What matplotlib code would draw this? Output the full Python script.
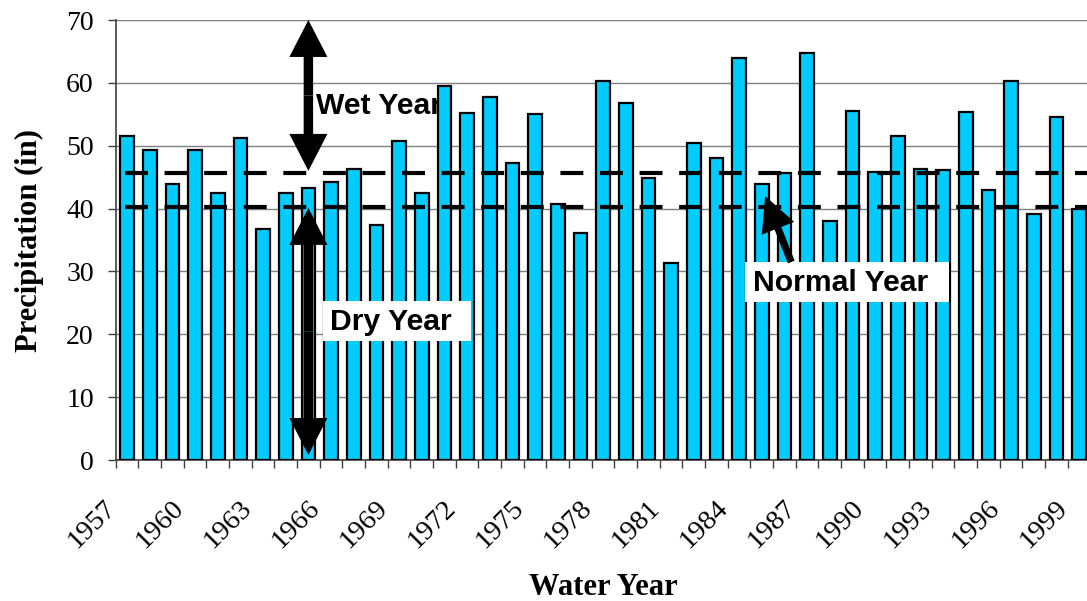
import matplotlib
matplotlib.use("Agg")
import matplotlib.pyplot as plt
import matplotlib.transforms as mtransforms
from matplotlib.patches import FancyArrowPatch, Rectangle
import numpy as np

# Annual precipitation by water year
years = list(range(1957, 2000))
precip = [51.5, 49.3, 43.9, 49.3, 42.4, 51.2, 36.8, 42.5, 43.2, 44.3,
          46.3, 37.4, 50.8, 42.5, 59.5, 55.2, 57.8, 47.3, 55.0, 40.7,
          36.1, 60.3, 56.8, 44.8, 31.4, 50.4, 48.0, 64.0, 43.9, 45.7,
          64.7, 38.1, 55.5, 45.8, 51.5, 46.3, 46.2, 55.3, 43.0, 60.3,
          39.2, 54.6, 40.0]

# Year-type thresholds (in)
wet_threshold = 45.6
dry_threshold = 40.3

y_ticks = [0, 10, 20, 30, 40, 50, 60, 70]
label_years = list(range(1957, 2000, 3))

serif = ["Liberation Serif", "DejaVu Serif"]
sans = ["Liberation Sans", "DejaVu Sans"]

fig = plt.figure(figsize=(10.87, 6.01), dpi=100)
ax = fig.add_axes([115.7 / 1087, 1 - 460 / 601, (1090.5 - 115.7) / 1087, 440 / 601])

x = np.arange(len(years))
ax.bar(x, precip, width=0.6, color="#00CCFF", edgecolor="black",
       linewidth=1.6, zorder=3)

ax.set_xlim(-0.5, len(years) - 0.5)
ax.set_ylim(0, 70)

# horizontal gridlines
ax.set_yticks(y_ticks)
ax.yaxis.grid(True, color="#808080", linewidth=1.0, zorder=0)
ax.set_axisbelow(True)
for s in ["top", "right"]:
    ax.spines[s].set_visible(False)
ax.axhline(70, color="#808080", linewidth=1.5, zorder=1)
ax.spines["left"].set_color("#404040")
ax.spines["left"].set_linewidth(1.2)
ax.spines["bottom"].set_color("#404040")
ax.spines["bottom"].set_linewidth(1.2)

ax.tick_params(axis="y", direction="out", length=5.8, width=1.0,
               color="#404040", pad=10, labelsize=20)
for lab in ax.get_yticklabels():
    lab.set_fontfamily(serif)

# category boundary ticks and rotated year labels
ax.set_xticks(np.arange(-0.5, len(years), 1.0), minor=True)
ax.tick_params(axis="x", which="minor", direction="out", length=5.8,
               width=1.0, color="#404040")
label_pos = [years.index(yr) for yr in label_years]
ax.set_xticks(label_pos)
ax.set_xticklabels([str(yr) for yr in label_years], rotation=45,
                   ha="right", va="top", rotation_mode="anchor",
                   fontsize=20.5, fontfamily=serif)
ax.tick_params(axis="x", which="major", length=0, pad=25.5)
shift = mtransforms.ScaledTranslation(-24 / 100, 0, fig.dpi_scale_trans)
for lab in ax.get_xticklabels():
    lab.set_transform(lab.get_transform() + shift)

ax.set_ylabel("Precipitation (in)", fontsize=22, fontweight="bold",
              fontfamily=serif, labelpad=16)
ax.set_xlabel("Water Year", fontsize=22, fontweight="bold",
              fontfamily=serif, labelpad=14)

# dashed threshold lines
for level in (wet_threshold, dry_threshold):
    ax.plot([-0.1, len(years)], [level, level], color="black",
            linewidth=3.0, dashes=(5.5, 4.0), zorder=4, clip_on=False,
            solid_capstyle="butt", dash_capstyle="butt")


def one_way_arrow(start, end, head_len, head_w, tail_w, z=6):
    arr = FancyArrowPatch(start, end, mutation_scale=1,
                          arrowstyle=f"simple,head_length={head_len},"
                                     f"head_width={head_w},tail_width={tail_w}",
                          color="black", linewidth=0, shrinkA=0, shrinkB=0,
                          zorder=z)
    ax.add_patch(arr)


def two_way_arrow(xc, y0, y1, head_len, head_w, tail_w):
    ym = (y0 + y1) / 2
    one_way_arrow((xc, ym), (xc, y0), head_len, head_w, tail_w)
    one_way_arrow((xc, ym), (xc, y1), head_len, head_w, tail_w)


arrow_x = years.index(1965)
two_way_arrow(arrow_x, 70, wet_threshold + 0.4, 26.6, 27.4, 6.8)
two_way_arrow(arrow_x, dry_threshold - 0.2, 0.8, 26.6, 27.4, 6.8)

ann_font = dict(fontsize=21.7, fontweight="bold", fontfamily=sans, color="black")

ax.text(8.34, 56.3, "Wet Year", ha="left", va="center", zorder=2, **ann_font)

ax.add_patch(Rectangle((8.64, 18.9), 6.55, 6.4, facecolor="white",
                       edgecolor="none", zorder=7))
ax.text(8.95, 22.0, "Dry Year", ha="left", va="center", zorder=8, **ann_font)

ax.add_patch(Rectangle((27.24, 25.1), 9.01, 6.4, facecolor="white",
                       edgecolor="none", zorder=7))
ax.text(27.63, 28.2, "Normal Year", ha="left", va="center", zorder=8,
        **ann_font)
one_way_arrow((29.3, 31.5), (28.15, 42.0), 25, 25, 5.2, z=8)

fig.savefig("out.png", dpi=100)
